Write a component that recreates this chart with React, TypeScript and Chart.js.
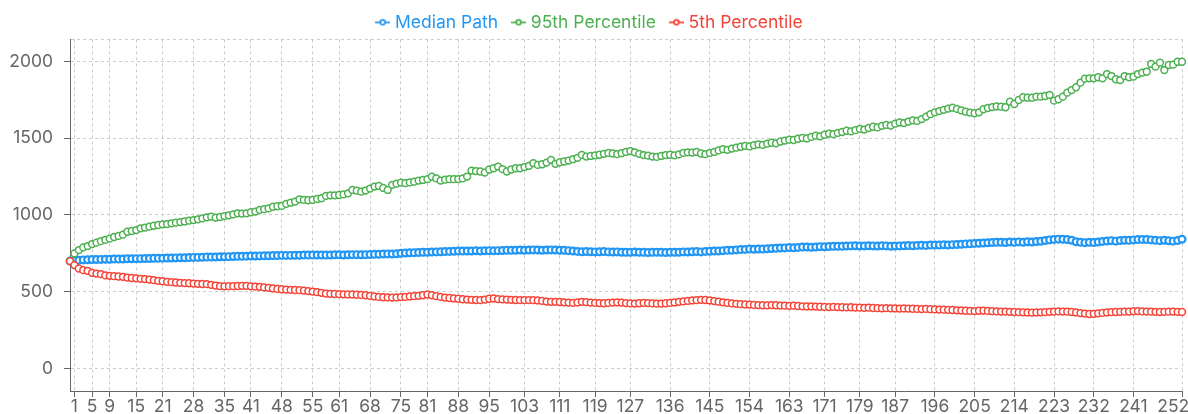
import React, { useEffect, useRef } from 'react';
import { Chart, registerables } from 'chart.js';

Chart.register(...registerables);

// Day index categories 0..252
const LABELS: string[] = Array.from({ length: 253 }, (_, i) => String(i));

// Tick labels that are shown on the x axis
const X_TICK_LABELS: number[] = [1, 5, 9, 15, 21, 28, 35, 41, 48, 55, 61, 68, 75, 81, 88, 95, 103, 111, 119, 127, 136, 145, 154, 163, 171, 179, 187, 196, 205, 214, 223, 232, 241, 252];

const Y_TICKS: number[] = [0, 500, 1000, 1500, 2000];
const Y_MIN = -145;
const Y_MAX = 2143;

const MEDIAN: number[] = [
  700, 704, 706, 708, 709, 710, 710, 711, 712, 712,
  713, 713, 714, 715, 715, 716, 716, 717, 717, 718,
  718, 719, 720, 720, 721, 722, 722, 723, 724, 724,
  725, 726, 726, 727, 728, 728, 729, 730, 731, 731,
  732, 733, 733, 734, 735, 735, 736, 736, 737, 737,
  737, 738, 738, 739, 739, 739, 740, 740, 739, 740,
  741, 741, 740, 741, 742, 742, 741, 742, 743, 744,
  745, 746, 747, 746, 748, 751, 753, 754, 755, 756,
  757, 758, 759, 760, 761, 762, 763, 764, 765, 765,
  766, 766, 767, 766, 767, 768, 767, 768, 769, 770,
  770, 771, 772, 771, 772, 773, 772, 771, 772, 773,
  772, 771, 770, 768, 766, 763, 761, 762, 761, 760,
  761, 762, 760, 759, 760, 758, 757, 758, 759, 758,
  757, 756, 757, 758, 757, 756, 758, 757, 758, 760,
  759, 761, 762, 760, 763, 764, 765, 766, 768, 770,
  771, 773, 775, 776, 778, 777, 779, 778, 780, 782,
  783, 785, 786, 788, 787, 789, 791, 792, 790, 792,
  794, 793, 795, 796, 797, 796, 798, 799, 800, 798,
  799, 800, 799, 798, 800, 799, 797, 798, 799, 800,
  801, 800, 802, 803, 802, 804, 805, 804, 806, 805,
  807, 808, 810, 812, 813, 815, 816, 818, 819, 821,
  822, 823, 821, 824, 822, 825, 823, 826, 824, 827,
  829, 834, 838, 841, 843, 842, 840, 836, 826, 822,
  820, 822, 821, 824, 828, 831, 833, 830, 834, 836,
  835, 838, 840, 841, 840, 838, 835, 833, 836, 832,
  830, 834, 842,
];

const P95: number[] = [
  700, 750, 772, 789, 798, 811, 820, 830, 838, 846,
  857, 864, 872, 891, 896, 902, 913, 918, 924, 930,
  935, 939, 941, 946, 950, 954, 958, 963, 967, 972,
  978, 985, 989, 983, 987, 993, 998, 1004, 1011, 1009,
  1011, 1018, 1022, 1033, 1038, 1043, 1054, 1057, 1059, 1072,
  1080, 1087, 1102, 1098, 1096, 1098, 1104, 1109, 1124, 1128,
  1128, 1130, 1134, 1141, 1163, 1158, 1152, 1159, 1172, 1185,
  1189, 1176, 1163, 1196, 1204, 1211, 1207, 1212, 1217, 1224,
  1228, 1233, 1250, 1238, 1224, 1230, 1233, 1233, 1234, 1238,
  1250, 1289, 1286, 1283, 1276, 1296, 1304, 1315, 1298, 1283,
  1296, 1304, 1304, 1312, 1320, 1337, 1326, 1330, 1341, 1359,
  1333, 1343, 1348, 1354, 1363, 1372, 1391, 1380, 1384, 1388,
  1392, 1398, 1404, 1400, 1396, 1402, 1410, 1416, 1408, 1398,
  1390, 1386, 1380, 1378, 1384, 1390, 1392, 1388, 1394, 1404,
  1408, 1406, 1410, 1400, 1396, 1404, 1410, 1420, 1428, 1424,
  1432, 1438, 1444, 1450, 1446, 1454, 1460, 1456, 1464, 1470,
  1466, 1478, 1484, 1490, 1488, 1496, 1502, 1498, 1508, 1516,
  1512, 1522, 1530, 1526, 1534, 1540, 1548, 1544, 1552, 1560,
  1556, 1566, 1574, 1570, 1580, 1586, 1582, 1594, 1602, 1598,
  1608, 1616, 1612, 1624, 1640, 1656, 1668, 1676, 1684, 1692,
  1698, 1690, 1680, 1672, 1666, 1662, 1668, 1688, 1696, 1702,
  1706, 1705, 1701, 1737, 1722, 1748, 1766, 1763, 1763, 1770,
  1770, 1774, 1781, 1744, 1753, 1770, 1796, 1813, 1831, 1861,
  1887, 1889, 1889, 1896, 1889, 1917, 1904, 1883, 1878, 1904,
  1896, 1900, 1917, 1926, 1932, 1983, 1965, 1991, 1943, 1976,
  1978, 1997, 1997,
];

const P5: number[] = [
  700, 674, 652, 641, 637, 624, 619, 615, 607, 604,
  602, 600, 598, 593, 590, 588, 585, 583, 580, 576,
  572, 569, 565, 563, 561, 559, 557, 556, 554, 552,
  551, 550, 546, 541, 537, 536, 537, 537, 538, 539,
  539, 536, 534, 533, 529, 526, 522, 519, 517, 515,
  513, 512, 511, 508, 505, 502, 498, 494, 489, 487,
  486, 485, 484, 483, 483, 481, 480, 478, 474, 470,
  467, 465, 464, 463, 464, 466, 467, 470, 472, 474,
  478, 483, 478, 472, 467, 463, 460, 457, 455, 452,
  450, 448, 447, 446, 450, 455, 457, 453, 451, 450,
  448, 447, 446, 446, 446, 446, 444, 441, 437, 435,
  435, 434, 432, 430, 428, 431, 435, 433, 430, 428,
  427, 426, 428, 430, 432, 430, 427, 425, 424, 426,
  428, 427, 425, 423, 424, 426, 428, 431, 435, 438,
  441, 444, 446, 448, 447, 444, 440, 436, 432, 428,
  425, 422, 420, 418, 417, 415, 414, 413, 412, 414,
  413, 411, 410, 409, 410, 408, 406, 405, 406, 404,
  403, 402, 401, 402, 401, 400, 399, 400, 398, 397,
  396, 397, 395, 394, 393, 394, 393, 392, 391, 392,
  391, 390, 389, 388, 389, 387, 386, 385, 384, 383,
  382, 380, 379, 377, 376, 375, 377, 378, 376, 374,
  373, 372, 371, 370, 369, 368, 367, 366, 365, 366,
  367, 368, 370, 372, 373, 372, 371, 369, 366, 362,
  359, 356, 357, 360, 363, 366, 368, 369, 370, 371,
  372, 374, 375, 373, 372, 371, 370, 369, 370, 371,
  372, 370, 369,
];

const SERIES_NAMES: string[] = ['Median Path', '95th Percentile', '5th Percentile'];
const SERIES_COLORS: string[] = ['#2196F3', '#4CAF50', '#F44336'];

const FONT_FAMILY = 'Inter, "Noto Sans", "Liberation Sans", sans-serif';
const FONT_SIZE = 17.5;
const AXIS_COLOR = '#666';
const GRID_COLOR = '#ccc';

function makeLegendIcon(color: string): HTMLCanvasElement {
  const c = document.createElement('canvas');
  c.width = 15;
  c.height = 9;
  const g = c.getContext('2d')!;
  g.strokeStyle = color;
  g.lineWidth = 1.75;
  g.beginPath();
  g.moveTo(0, 4.5);
  g.lineTo(5.2, 4.5);
  g.moveTo(9.8, 4.5);
  g.lineTo(15, 4.5);
  g.stroke();
  g.beginPath();
  g.arc(7.5, 4.5, 2.4, 0, Math.PI * 2);
  g.fillStyle = '#fff';
  g.fill();
  g.stroke();
  return c;
}

export default function App() {
  const canvasRef = useRef<HTMLCanvasElement | null>(null);

  useEffect(() => {
    const canvas = canvasRef.current;
    if (!canvas) return;
    const icons = SERIES_COLORS.map(makeLegendIcon);
    const xTickIdx = X_TICK_LABELS.map((v) => LABELS.indexOf(String(v)));
    const lastTick = xTickIdx[xTickIdx.length - 1];
    const values = [MEDIAN, P95, P5];
    const widths = [2.2, 1.5, 1.5];
    const orders = [2, 1, 0];

    const chart = new Chart(canvas, {
      type: 'line',
      data: {
        labels: LABELS,
        datasets: values.map((vals, i) => ({
          label: SERIES_NAMES[i],
          data: vals,
          borderColor: SERIES_COLORS[i],
          backgroundColor: '#fff',
          borderWidth: widths[i],
          pointRadius: 3.4,
          pointBorderWidth: widths[i],
          pointBackgroundColor: '#fff',
          pointBorderColor: SERIES_COLORS[i],
          tension: 0,
          order: orders[i],
        })),
      },
      options: {
        responsive: false,
        animation: false,
        devicePixelRatio: 1,
        layout: { padding: { top: -3.5, left: 0, right: 18, bottom: 0 } },
        plugins: {
          tooltip: { enabled: false },
          legend: {
            position: 'top',
            align: 'center',
            maxHeight: 42.8,
            labels: {
              usePointStyle: true,
              pointStyleWidth: 7,
              padding: 17,
              font: { family: FONT_FAMILY, size: FONT_SIZE },
              generateLabels: (ch: any) =>
                ch.data.datasets.map((ds: any, i: number) => ({
                  text: ds.label,
                  fillStyle: ds.borderColor,
                  strokeStyle: ds.borderColor,
                  fontColor: ds.borderColor,
                  lineWidth: 0,
                  pointStyle: icons[i],
                  hidden: false,
                  datasetIndex: i,
                })),
            },
          },
        },
        scales: {
          x: {
            type: 'category',
            offset: false,
            afterBuildTicks: (s: any) => {
              s.ticks = xTickIdx.map((v) => ({ value: v }));
            },
            afterFit: (s: any) => {
              s.height = 34;
              s.paddingLeft = 0;
              s.paddingRight = 0;
            },
            ticks: {
              autoSkip: false,
              maxRotation: 0,
              minRotation: 0,
              align: 'center',
              padding: 1,
              color: AXIS_COLOR,
              font: { family: FONT_FAMILY, size: FONT_SIZE, lineHeight: 1 },
              // the last label sits against the right edge, as in the reference
              callback: (v: any) => (v === lastTick ? LABELS[v] + '\u2003' : LABELS[v]),
            },
            grid: {
              color: GRID_COLOR,
              tickColor: AXIS_COLOR,
              tickLength: 6,
              lineWidth: 1,
            },
            border: { color: AXIS_COLOR, width: 1, dash: [3, 3] },
          },
          y: {
            type: 'linear',
            min: Y_MIN,
            max: Y_MAX,
            bounds: 'data',
            afterBuildTicks: (s: any) => {
              s.ticks = [...Y_TICKS, Y_MAX].map((v) => ({ value: v }));
            },
            afterFit: (s: any) => {
              s.width = 70;
            },
            ticks: {
              color: AXIS_COLOR,
              padding: 11,
              font: { family: FONT_FAMILY, size: FONT_SIZE },
              callback: (v: any) => (Y_TICKS.includes(v) ? String(v) : ''),
            },
            grid: {
              color: GRID_COLOR,
              tickColor: (c: any) => (c.tick && c.tick.value === Y_MAX ? 'rgba(0,0,0,0)' : AXIS_COLOR),
              tickLength: 6,
              lineWidth: 1,
            },
            border: { color: AXIS_COLOR, width: 1, dash: [3, 3] },
          },
        },
      } as any,
    });
    return () => chart.destroy();
  }, []);

  return (
    <div style={{ position: 'fixed', left: 0, top: 0, width: 1200, height: 425, background: '#fff' }}>
      <canvas ref={canvasRef} width={1200} height={425} style={{ width: 1200, height: 425, display: 'block' }} />
    </div>
  );
}
